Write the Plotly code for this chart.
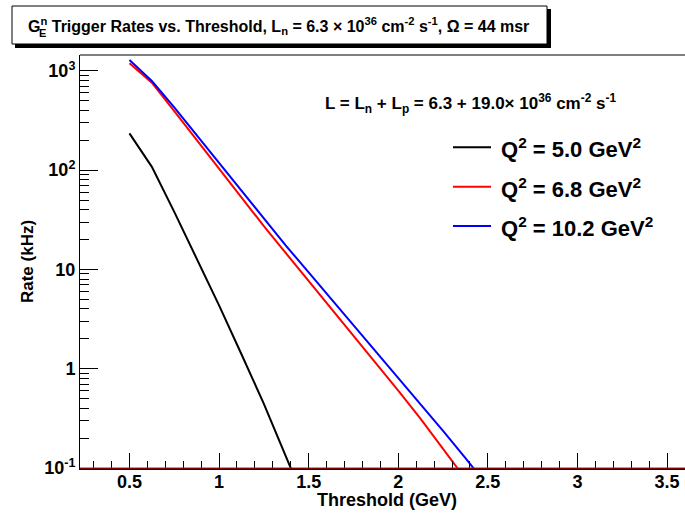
import plotly.graph_objects as go

# ---- data ----
threshold = [0.5, 0.625, 0.75, 0.875, 1.0, 1.125, 1.25, 1.375, 1.5, 1.625, 1.75,
             1.875, 2.0, 2.125, 2.25, 2.375, 2.5]
rate_q2_50 = [235, 108, 38.0, 13.1, 4.35, 1.40, 0.443, 0.128, 0.037]
rate_q2_68 = [1197, 760, 394, 202, 103.5, 53.0, 27.3, 14.45, 7.67, 4.07, 2.16,
              1.148, 0.603, 0.313, 0.158, 0.0776]
rate_q2_102 = [1290, 790, 428, 225, 118.6, 62.2, 32.7, 17.2, 9.33, 5.07, 2.75,
               1.496, 0.813, 0.442, 0.237, 0.126, 0.0653]
series_names = ["Q<sup>2</sup> = 5.0 GeV<sup>2</sup>",
                "Q<sup>2</sup> = 6.8 GeV<sup>2</sup>",
                "Q<sup>2</sup> = 10.2 GeV<sup>2</sup>"]
series_colors = ["#000000", "#ff0000", "#0000ff"]
series_values = [rate_q2_50, rate_q2_68, rate_q2_102]

ytick_vals = [0.1, 1, 10, 100, 1000]
ytick_text = ["10<sup>-1</sup>", "1", "10", "10<sup>2</sup>", "10<sup>3</sup>"]

W, H = 685, 515
L, R, T, B = 80, 0, 55, 47
FONT = "Liberation Sans, Arial, sans-serif"


def px2x(px):
    return (px - L) / (W - L - R)


def py2y(py):
    return (H - B - py) / (H - B - T)


fig = go.Figure()
for name, col, vals in zip(series_names, series_colors, series_values):
    fig.add_trace(go.Scatter(x=threshold[:len(vals)], y=vals, mode="lines",
                             line=dict(color=col, width=2), name=name,
                             showlegend=False))

minor_y = [m * 10 ** e for e in range(-1, 4) for m in range(2, 10)]

fig.update_layout(
    width=W, height=H,
    margin=dict(l=L, r=R, t=T, b=B, pad=0),
    paper_bgcolor="white", plot_bgcolor="white",
    font=dict(family=FONT, color="black", weight="bold"),
    xaxis=dict(range=[0.224, 3.6], showgrid=False, zeroline=False,
               showline=True, linecolor="black", linewidth=2, mirror=False,
               ticks="inside", ticklen=15, tickcolor="black", tickwidth=1,
               tick0=0.5, dtick=0.5, ticklabelstandoff=-4,
               tickfont=dict(size=18, family=FONT, weight="bold"),
               minor=dict(ticks="inside", ticklen=7, tickcolor="black",
                          dtick=0.1, tick0=0.0, showgrid=False)),
    yaxis=dict(type="log", range=[-1, 3.16], showgrid=False, zeroline=False,
               showline=True, linecolor="black", linewidth=1,
               ticks="inside", ticklen=18, tickcolor="black", tickwidth=1,
               tickmode="array", tickvals=ytick_vals, ticktext=ytick_text,
               tickfont=dict(size=18, family=FONT, weight="bold"),
               minor=dict(ticks="inside", ticklen=9, tickcolor="black",
                          tickmode="array", tickvals=minor_y, showgrid=False),
               title=dict(text="Rate (kHz)", standoff=6,
                          font=dict(size=17, family=FONT, weight="bold"))),
)

shapes = []
# top frame line
shapes.append(dict(type="line", xref="paper", yref="paper", x0=0, x1=1, y0=1, y1=1,
                   line=dict(color="black", width=1)))
# red line along the bottom axis
shapes.append(dict(type="line", xref="paper", yref="paper", x0=0, x1=1, y0=0, y1=0,
                   line=dict(color="#ff0000", width=1), layer="above"))
# title box shadow + box
shapes.append(dict(type="rect", xref="paper", yref="paper",
                   x0=px2x(15), x1=px2x(551), y0=py2y(48), y1=py2y(9),
                   fillcolor="black", line=dict(width=0)))
shapes.append(dict(type="rect", xref="paper", yref="paper",
                   x0=px2x(12), x1=px2x(547), y0=py2y(44), y1=py2y(6),
                   fillcolor="white", line=dict(color="black", width=1)))
# legend lines
leg_y = [147.3, 186.7, 226.0]
for col, ly in zip(series_colors, leg_y):
    shapes.append(dict(type="line", xref="paper", yref="paper",
                       x0=px2x(453), x1=px2x(491), y0=py2y(ly), y1=py2y(ly),
                       line=dict(color=col, width=2)))
fig.update_layout(shapes=shapes)

ann = []
ann.append(dict(xref="paper", yref="paper", x=px2x(26), y=py2y(26),
                xanchor="left", yanchor="middle", showarrow=False,
                text="G<sup>n</sup> Trigger Rates vs. Threshold, L<sub>n</sub> = 6.3 × 10<sup>36</sup> cm<sup>-2</sup> s<sup>-1</sup>, Ω = 44 msr",
                font=dict(size=16, family=FONT, weight="bold")))
ann.append(dict(xref="paper", yref="paper", x=px2x(36.5), y=py2y(33),
                xanchor="left", yanchor="middle", showarrow=False, text="E",
                font=dict(size=11, family=FONT, weight="bold")))
ann.append(dict(xref="paper", yref="paper", x=px2x(323), y=py2y(103),
                xanchor="left", yanchor="middle", showarrow=False,
                text="L = L<sub>n</sub> + L<sub>p</sub> = 6.3 + 19.0× 10<sup>36</sup> cm<sup>-2</sup> s<sup>-1</sup>",
                font=dict(size=17, family=FONT, weight="bold")))
ann.append(dict(xref="paper", yref="paper", x=px2x(387), y=py2y(500),
                xanchor="center", yanchor="middle", showarrow=False,
                text="Threshold (GeV)",
                font=dict(size=18, family=FONT, weight="bold")))
for name, ly in zip(series_names, leg_y):
    ann.append(dict(xref="paper", yref="paper", x=px2x(499), y=py2y(ly + 1),
                    xanchor="left", yanchor="middle", showarrow=False, text=name,
                    font=dict(size=22, family=FONT, weight="bold")))
fig.update_layout(annotations=ann)

fig.write_html("out.html")
